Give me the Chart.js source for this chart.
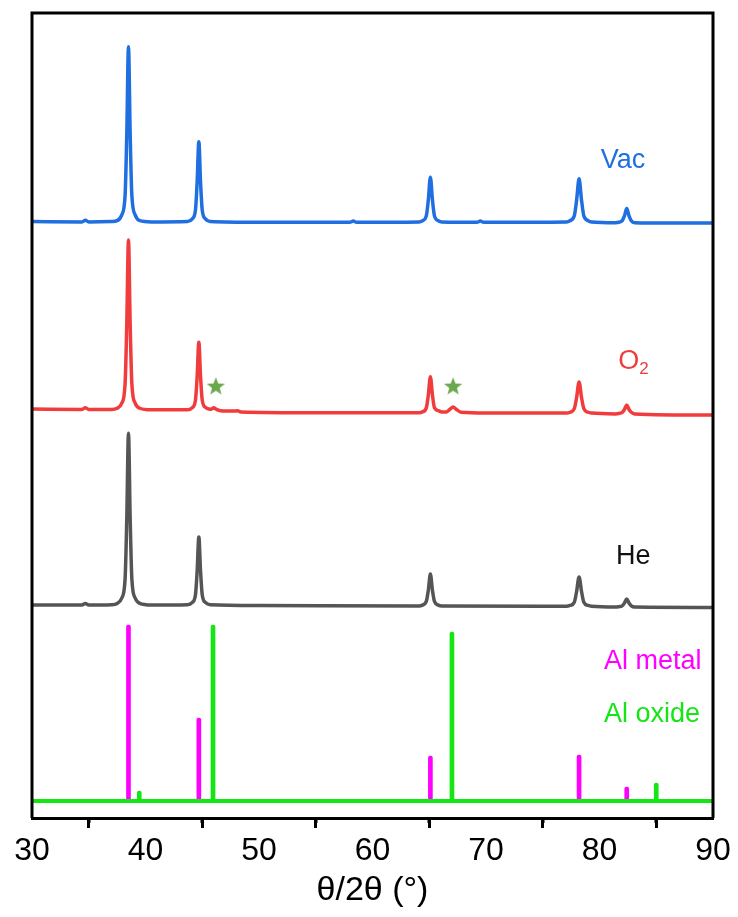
<!DOCTYPE html>
<html>
<head>
<meta charset="utf-8">
<script src="https://cdn.jsdelivr.net/npm/chart.js@4.4.0/dist/chart.umd.min.js"></script>
<style>
  html, body { margin: 0; padding: 0; background: #fff; }
  #wrap { width: 738px; height: 917px; position: relative; }
</style>
</head>
<body>
<div id="wrap"><canvas id="c" width="738" height="917"></canvas></div>
<script>
// ---- data (2theta in degrees, stacked intensity in a.u.) ----
const xTicks = [30, 40, 50, 60, 70, 80, 90];
const seriesNames = ['Vac', 'O2', 'He', 'Al metal', 'Al oxide'];

const vacData = [[30,74.1],[34.4,74.05],[34.7,74.25],[35.0,74.05],[37.0,74.1],[37.5,74.2],[37.9,74.9],[38.2,77.3],[38.35,84.9],[38.5,95.8],[38.65,84.9],[38.8,77.3],[39.1,74.9],[39.5,74.2],[40.5,74.05],[43.7,74.1],[44.1,74.4],[44.4,75.5],[44.55,79.0],[44.7,84.0],[44.85,79.0],[45.0,75.5],[45.3,74.4],[45.7,74.1],[50.0,74.0],[58.0,74.0],[58.3,74.15],[58.6,74.0],[64.1,74.05],[64.4,74.2],[64.74,74.8],[64.92,76.8],[65.1,79.6],[65.28,76.8],[65.46,74.8],[65.8,74.2],[66.1,74.05],[69.2,74.0],[69.5,74.15],[69.8,74.0],[77.1,74.05],[77.4,74.2],[77.78,74.8],[77.98,76.7],[78.2,79.4],[78.42,76.7],[78.62,74.8],[79.0,74.2],[79.3,74.05],[81.4,73.95],[81.7,74.0],[82.0,74.2],[82.2,74.8],[82.4,75.7],[82.6,74.8],[82.8,74.2],[83.1,73.95],[86.0,73.9],[90,73.9]];

const o2Data = [[30,50.8],[34.4,50.75],[34.7,50.95],[35.0,50.75],[37.0,50.75],[37.5,50.9],[37.9,51.5],[38.2,53.9],[38.35,61.3],[38.5,71.8],[38.65,61.3],[38.8,53.9],[39.1,51.5],[39.5,50.9],[40.5,50.7],[43.7,50.7],[44.1,50.95],[44.4,51.9],[44.55,54.85],[44.7,59.1],[44.85,54.85],[45.0,51.9],[45.3,51.0],[45.6,50.8],[45.8,50.78],[46.0,50.95],[46.25,50.75],[46.6,50.6],[47.8,50.55],[48.1,50.58],[48.4,50.45],[55,50.35],[64.1,50.35],[64.4,50.45],[64.74,50.95],[64.92,52.55],[65.1,54.8],[65.28,52.55],[65.46,50.95],[65.8,50.6],[66.1,50.45],[66.5,50.45],[66.8,50.75],[67.1,51.05],[67.4,50.75],[67.8,50.4],[70,50.3],[77.1,50.3],[77.4,50.4],[77.78,50.85],[77.98,52.2],[78.2,54.15],[78.42,52.2],[78.62,50.85],[79.0,50.4],[79.3,50.3],[81.4,50.2],[81.7,50.25],[82.0,50.4],[82.2,50.75],[82.4,51.3],[82.6,50.75],[82.8,50.4],[83.1,50.2],[90,50.05]];

const heData = [[30,26.45],[34.4,26.45],[34.7,26.65],[35.0,26.45],[37.0,26.5],[37.5,26.65],[37.9,27.3],[38.2,29.65],[38.35,37.15],[38.5,47.8],[38.65,37.15],[38.8,29.65],[39.1,27.3],[39.5,26.65],[40.5,26.45],[43.7,26.5],[44.1,26.75],[44.4,27.7],[44.55,30.65],[44.7,34.9],[44.85,30.65],[45.0,27.7],[45.3,26.75],[45.7,26.5],[50,26.4],[64.1,26.35],[64.4,26.45],[64.74,26.9],[64.92,28.3],[65.1,30.3],[65.28,28.3],[65.46,26.9],[65.8,26.45],[66.1,26.35],[77.1,26.3],[77.4,26.4],[77.78,26.8],[77.98,28.1],[78.2,29.95],[78.42,28.1],[78.62,26.8],[79.0,26.4],[79.3,26.3],[81.4,26.2],[81.7,26.25],[82.0,26.35],[82.2,26.7],[82.4,27.2],[82.6,26.7],[82.8,26.35],[83.1,26.2],[90,26.15]];

const stickBase = 2.11;
const metalPos = [38.5, 44.7, 65.1, 78.2, 82.4];
const metalInt = [23.98, 12.42, 7.70, 7.83, 3.85];
const oxidePos = [39.45, 45.95, 67.0, 85.0];
const oxideInt = [3.35, 23.98, 23.1, 4.35];

const starPos = [46.2, 67.1];
const starInt = [53.7, 53.7];

// ---- styles ----
const C_BLUE = '#1f6fe0', C_RED = '#f03c3c', C_GRAY = '#555555',
      C_MAG = '#ff00ff', C_GREEN = '#14e614', C_STAR = '#6aa84f';
const FONT = '"Liberation Sans", Arial, Helvetica, sans-serif';

function toXY(arr) { return arr.map(p => ({x: p[0], y: p[1]})); }

// star marker image
const starImg = document.createElement('canvas');
starImg.width = 22; starImg.height = 22;
(function () {
  const g = starImg.getContext('2d');
  const cx = 11, cy = 12, R = 9.6, r = 4.0;
  g.beginPath();
  for (let i = 0; i < 10; i++) {
    const a = -Math.PI / 2 + i * Math.PI / 5;
    const rad = i % 2 === 0 ? R : r;
    const px = cx + rad * Math.cos(a), py = cy + rad * Math.sin(a);
    if (i === 0) g.moveTo(px, py); else g.lineTo(px, py);
  }
  g.closePath();
  g.fillStyle = C_STAR;
  g.fill();
})();

const lineDs = (label, data, color) => ({
  type: 'line', label, data: toXY(data), borderColor: color, borderWidth: 3.5,
  pointRadius: 0, fill: false, cubicInterpolationMode: 'monotone', order: 2
});

const frameAndLabels = {
  id: 'frameAndLabels',
  afterDraw(chart) {
    const {ctx, chartArea: a, scales: {x, y}} = chart;
    ctx.save();
    // minor ticks
    ctx.strokeStyle = '#000'; ctx.lineWidth = 3;
    for (let v = 35; v < 90; v += 10) {
      const px = Math.round(x.getPixelForValue(v));
      ctx.beginPath(); ctx.moveTo(px, a.bottom); ctx.lineTo(px, a.bottom + 5); ctx.stroke();
    }
    // frame (top, left, right)
    ctx.beginPath();
    ctx.moveTo(a.left, a.bottom); ctx.lineTo(a.left, a.top);
    ctx.lineTo(a.right, a.top); ctx.lineTo(a.right, a.bottom);
    ctx.stroke();
    // labels
    const txt = (s, xv, yv, color, size) => {
      ctx.font = size + 'px ' + FONT;
      ctx.fillStyle = color; ctx.textAlign = 'left'; ctx.textBaseline = 'alphabetic';
      ctx.fillText(s, x.getPixelForValue(xv), y.getPixelForValue(yv));
    };
    txt('Vac', 80.1, 80.75, C_BLUE, 27);
    txt('O', 81.65, 55.78, C_RED, 27);
    txt('2', 83.5, 55.16, C_RED, 17);
    txt('He', 81.45, 31.55, '#111', 27);
    txt('Al metal', 80.4, 18.51, C_MAG, 27);
    txt('Al oxide', 80.4, 11.93, C_GREEN, 27);
    ctx.restore();
  }
};

new Chart(document.getElementById('c'), {
  type: 'line',
  data: {
    datasets: [
      lineDs(seriesNames[0], vacData, C_BLUE),
      lineDs(seriesNames[1], o2Data, C_RED),
      lineDs(seriesNames[2], heData, C_GRAY),
      {
        type: 'bar', label: seriesNames[3],
        data: metalPos.map((p, i) => ({x: p, y: [stickBase, metalInt[i]]})),
        backgroundColor: C_MAG, barThickness: 4, grouped: false, borderRadius: 2, borderSkipped: false, order: 3
      },
      {
        type: 'bar', label: seriesNames[4],
        data: oxidePos.map((p, i) => ({x: p, y: [stickBase, oxideInt[i]]})),
        backgroundColor: C_GREEN, barThickness: 4, grouped: false, borderRadius: 2, borderSkipped: false, order: 3
      },
      {
        type: 'line', label: 'Al oxide baseline',
        data: [{x: 30, y: stickBase}, {x: 90, y: stickBase}],
        borderColor: C_GREEN, borderWidth: 4, pointRadius: 0, order: 1
      },
      {
        type: 'scatter', label: 'Al2O3 marker',
        data: starPos.map((p, i) => ({x: p, y: starInt[i]})),
        pointStyle: starImg, pointRadius: 10, order: 0
      }
    ]
  },
  options: {
    responsive: false,
    animation: false,
    events: [],
    layout: { padding: { left: 32, right: 25, top: 13, bottom: 0 } },
    plugins: { legend: { display: false }, tooltip: { enabled: false } },
    scales: {
      x: {
        type: 'linear', min: 30, max: 90, offset: false,
        afterFit(s) { s.height = 99; },
        border: { display: true, color: '#000', width: 3 },
        grid: {
          drawOnChartArea: false, drawTicks: true, tickLength: 10, tickWidth: 3,
          tickColor: ctx => (ctx.tick && ctx.tick.value % 10 === 0) ? '#000' : 'rgba(0,0,0,0)'
        },
        afterBuildTicks(s) { s.ticks = xTicks.map(v => ({value: v})); },
        ticks: {
          autoSkip: false, maxRotation: 0, padding: 4, color: '#000',
          font: { family: FONT, size: 32 },
          callback: v => String(v)
        },
        title: {
          display: true, text: 'θ/2θ (°)', color: '#000',
          font: { family: FONT, size: 34 }, padding: { top: 0, bottom: 6 }
        }
      },
      y: { type: 'linear', min: 0, max: 100, display: false }
    }
  },
  plugins: [frameAndLabels]
});
</script>
</body>
</html>
